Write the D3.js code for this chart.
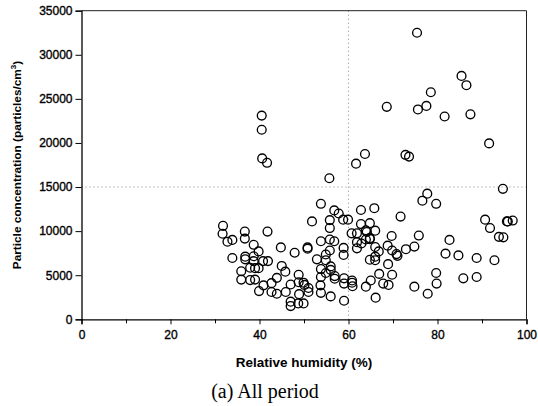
<!DOCTYPE html>
<html><head><meta charset="utf-8">
<script src="https://cdn.jsdelivr.net/npm/d3@7"></script>
<style>body{margin:0;background:#fff}svg{display:block}</style>
</head><body>
<svg id="c" width="538" height="406"></svg>
<script>
// Relative humidity (%) values
const humidity = [31.8,31.7,32.8,33.9,33.9,35.9,35.9,36.7,36.7,36.8,36.8,37.9,37.9,38.7,38.7,38.7,39,39,39.8,39.8,39.9,40.5,40.5,40.6,41.7,41.8,41.9,40.8,40.9,42.7,42.7,43.9,43.9,44.8,45,45.8,45.9,47.9,47,47,47,48.8,48.8,48.9,48.7,49.9,49.9,50.1,50.8,50.8,51,51,51.8,52.9,53.8,53.8,53.8,53.8,53.7,53.8,54.9,54.9,54.9,55.7,55.8,55.8,55.8,55.8,56,56,56,56.8,56.8,56.9,56.9,57.8,58.8,58.9,58.9,59,59,59,59.9,60.7,60.8,60.8,60.9,61.7,61.9,61.9,61.9,62.8,62.8,62.9,63.7,63.9,63.9,63.9,64.8,64.8,64.8,65,65.8,66,66,66,66,66.1,66.8,66.9,67.8,68.6,68.8,68.9,69,69.7,69.8,69.8,70.8,71,71.7,72.8,73.6,72.9,74.8,74.8,75.4,75.6,75.8,76.6,77.5,77.7,77.8,78.5,79.7,79.7,79.8,81.6,81.8,82.7,84.7,85.4,85.8,86.5,87.4,88.8,88.8,90.7,91.6,91.8,92.8,93.8,94.8,94.7,95.6,95.8,96.9,64.8,64.1];
// Particle concentration (particles/cm3) values
const concentration = [10600,9700,8800,9000,6950,5450,4500,9950,9150,7100,6800,5850,4450,8450,7150,6600,5800,4500,7700,5800,3200,23100,21500,18250,17750,9950,6600,6600,3850,4100,3100,4700,2900,8150,6050,5400,3100,7550,3950,2000,1500,5050,4200,2850,1800,4150,1800,3900,8150,8000,3550,3100,11100,6800,13100,8850,5700,4800,3850,3000,7350,6700,5250,16000,11250,10350,9050,7800,6000,5600,2600,12350,8850,4900,4600,12000,11300,8100,7300,4650,4050,2100,11300,9750,4400,4150,3750,17650,9750,8750,8050,12400,10800,8600,18750,10100,9050,3700,10900,9200,6750,4400,12600,10050,8200,7100,6700,2450,7700,5150,4050,24100,8350,6250,3900,9450,7800,5050,7400,7200,11650,18650,18450,7950,8250,3700,32500,23800,9500,13450,24200,14250,2900,25750,13100,5250,4050,23000,7450,9000,7250,27600,4650,26550,23250,6950,4800,11300,19950,10350,6700,9350,9300,14800,11100,11100,11200,9100,9900];
const xTicks = [0,20,40,60,80,100];
const xMinorTicks = [10,30,50,70,90];
const yTicks = [0,5000,10000,15000,20000,25000,30000,35000];
const xTitle = "Relative humidity (%)";
const yTitle = "Particle concentration (particles/cm";
const caption = "(a) All period";

const svg = d3.select("#c");
const L = 81.5, R = 526.5, T = 10.7, B = 319.3;
const x = d3.scaleLinear().domain([0,100]).range([L,R]);
const y = d3.scaleLinear().domain([0,35000]).range([B,T]);
const sans = "'Liberation Sans', Arial, sans-serif";

// reference lines
svg.append("line").attr("x1",x(60)).attr("x2",x(60)).attr("y1",T).attr("y2",B)
  .attr("stroke","#888").attr("stroke-width",1).attr("stroke-dasharray","1,3");
svg.append("line").attr("x1",L).attr("x2",R).attr("y1",y(15000)).attr("y2",y(15000))
  .attr("stroke","#888").attr("stroke-width",1).attr("stroke-dasharray","1,3");

// frame top & right
svg.append("line").attr("x1",L).attr("x2",R).attr("y1",T).attr("y2",T).attr("stroke","#222").attr("stroke-width",1);
svg.append("line").attr("x1",R).attr("x2",R).attr("y1",T).attr("y2",B).attr("stroke","#222").attr("stroke-width",1);

// axes
svg.append("g").attr("transform",`translate(0,${B})`)
  .call(d3.axisBottom(x).tickValues(xTicks).tickSize(5).tickPadding(6).tickFormat(d3.format("d")));
svg.append("g").attr("transform",`translate(0,${B})`)
  .call(d3.axisBottom(x).tickValues(xMinorTicks).tickSize(4).tickFormat(""))
  .call(g=>g.select(".domain").remove());
svg.append("g").attr("transform",`translate(${L},0)`)
  .call(d3.axisLeft(y).tickValues(yTicks).tickSize(6).tickPadding(3).tickFormat(d3.format("d")));
svg.selectAll(".tick text").attr("font-family",sans).attr("font-size",12).attr("fill","#000")
  .attr("stroke","#000").attr("stroke-width",0.35);
svg.selectAll(".domain").attr("stroke","#000").attr("stroke-width",1.3);
svg.selectAll(".tick line").attr("stroke","#000");

// points
svg.append("g").selectAll("circle").data(humidity.map((h,i)=>[h,concentration[i]]))
  .join("circle").attr("cx",d=>x(d[0])).attr("cy",d=>y(d[1])).attr("r",4.4)
  .attr("fill","none").attr("stroke","#000").attr("stroke-width",1.35);

// titles
svg.append("text").attr("x",(L+R)/2).attr("y",367).attr("text-anchor","middle")
  .attr("font-family",sans).attr("font-weight","bold").attr("font-size",13.5).text(xTitle);
const yt = svg.append("text").attr("transform",`translate(21,165) rotate(-90)`).attr("text-anchor","middle")
  .attr("font-family",sans).attr("font-weight","bold").attr("font-size",11.8);
yt.append("tspan").text(yTitle);
yt.append("tspan").attr("dy",-5).attr("font-size",8).text("3");
yt.append("tspan").attr("dy",5).text(")");
svg.append("text").attr("x",265).attr("y",398).attr("text-anchor","middle")
  .attr("font-family","'Liberation Serif','Times New Roman',serif").attr("font-size",20).text(caption);
</script>
</body></html>
